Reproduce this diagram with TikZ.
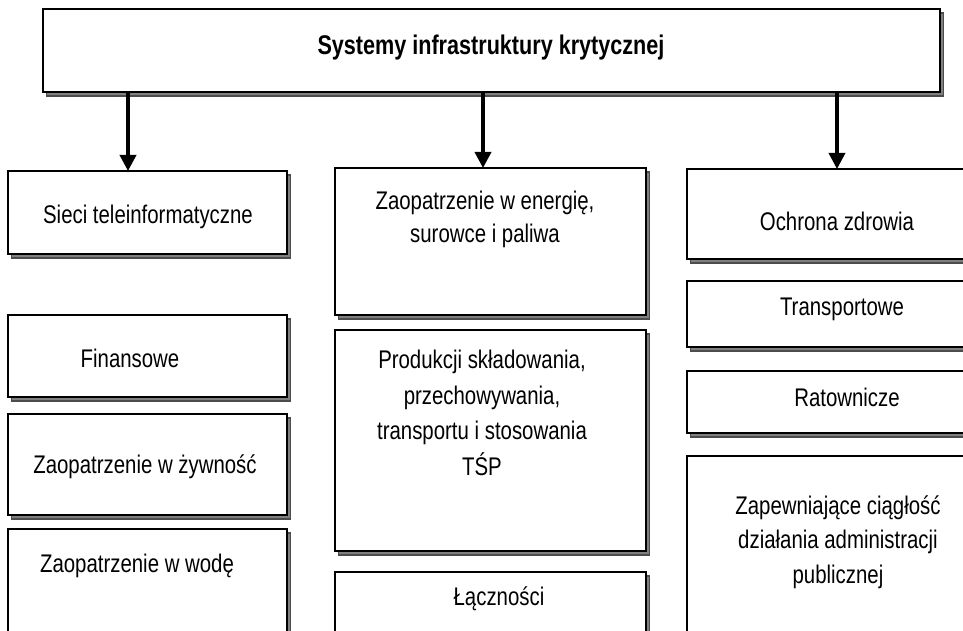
\documentclass[tikz,border=0pt]{standalone}
\usepackage{fontspec}
\setmainfont[FakeStretch=0.80]{Liberation Sans}
\usetikzlibrary{arrows.meta,shadows}
\begin{document}
\begin{tikzpicture}[x=1pt,y=-1pt,
  box/.style={draw=black,line width=1.2pt,fill=white,anchor=north west,inner sep=0pt,outer sep=0pt,
    drop shadow={shadow xshift=3.5pt,shadow yshift=-4pt,fill=black!50,draw=black!70,opacity=1}},
  txt/.style={anchor=base,align=center,inner sep=0pt,font=\fontsize{25.5}{35}\selectfont},
  arr/.style={line width=3.5pt,-{Triangle[length=16pt,width=16pt]}}]
\path[use as bounding box] (0,0) rectangle (963,631);
\clip (0,0) rectangle (963,631);
% boxes
\node[box,minimum width=897pt,minimum height=83pt] (top) at (43,9) {};
\node[box,minimum width=279pt,minimum height=83pt] (L1) at (8,171) {};
\node[box,minimum width=279pt,minimum height=82pt] (L2) at (8,315) {};
\node[box,minimum width=279pt,minimum height=101pt] (L3) at (8,414) {};
\node[box,minimum width=279pt,minimum height=180pt] (L4) at (8,529) {};
\node[box,minimum width=311pt,minimum height=147pt] (M1) at (335,168) {};
\node[box,minimum width=311pt,minimum height=221pt] (M2) at (335,330) {};
\node[box,minimum width=311pt,minimum height=150pt] (M3) at (335,572) {};
\node[box,minimum width=320pt,minimum height=90pt] (R1) at (687,169) {};
\node[box,minimum width=320pt,minimum height=66pt] (R2) at (687,281) {};
\node[box,minimum width=320pt,minimum height=62pt] (R3) at (687,371) {};
\node[box,minimum width=320pt,minimum height=200pt] (R4) at (687,456) {};
% texts (multi-line nodes are anchored at the baseline of their last line)
\node[txt,font=\fontsize{27}{35}\selectfont\bfseries] (tTop) at (491,55) {Systemy infrastruktury krytycznej};
\node[txt] (tL1) at (148,223) {Sieci teleinformatyczne};
\node[txt] (tL2) at (130,367) {Finansowe};
\node[txt] (tL3) at (145,473) {Zaopatrzenie w żywność};
\node[txt] (tL4) at (137,572) {Zaopatrzenie w wodę};
\node[txt,font=\fontsize{25.5}{33}\selectfont] (tM1) at (485,242) {Zaopatrzenie w energię,\\surowce i paliwa};
\node[txt,font=\fontsize{25.5}{35.5}\selectfont] (tM2) at (482,475) {Produkcji składowania,\\przechowywania,\\transportu i stosowania\\TŚP};
\node[txt] (tM3) at (499,605) {Łączności};
\node[txt] (tR1) at (837,230) {Ochrona zdrowia};
\node[txt] (tR2) at (842,315) {Transportowe};
\node[txt] (tR3) at (847,406) {Ratownicze};
\node[txt,font=\fontsize{25.5}{34.5}\selectfont] (tR4) at (838,583) {Zapewniające ciągłość\\działania administracji\\publicznej};
% arrows
\coordinate (a1) at (128,0);
\coordinate (a2) at (483,0);
\coordinate (a3) at (837,0);
\draw[arr] (a1 |- top.south) -- (a1 |- L1.north);
\draw[arr] (a2 |- top.south) -- (a2 |- M1.north);
\draw[arr] (a3 |- top.south) -- (a3 |- R1.north);
\end{tikzpicture}
\end{document}
